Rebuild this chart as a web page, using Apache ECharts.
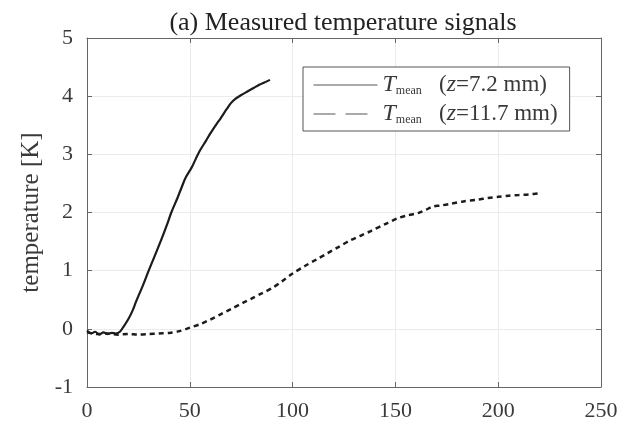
<!DOCTYPE html>
<html><head><meta charset="utf-8">
<script src="https://cdn.jsdelivr.net/npm/echarts@6/dist/echarts.min.js"></script>
<style>html,body{margin:0;padding:0;background:#fff}#c{width:631px;height:428px}</style>
</head><body><div id="c"></div>
<script>
var titleText = '(a) Measured temperature signals';
var yName = 'temperature [K]';
var xTicks = [0, 50, 100, 150, 200, 250];
var yTicks = [-1, 0, 1, 2, 3, 4, 5];
var seriesNames = ['T_mean (z=7.2 mm)', 'T_mean (z=11.7 mm)'];
var t1 = [0,2,4,6,8,10,12,14,16,18,20,22,24,27,30,33,36,39,41,44,46,48,51,53,55,58,60,63,65,68,70,72,75,78,81,84,86,89];
var v1 = [-0.03,-0.08,-0.05,-0.1,-0.06,-0.09,-0.07,-0.08,-0.05,0.05,0.16,0.3,0.48,0.73,1.0,1.26,1.52,1.8,2.0,2.25,2.43,2.6,2.78,2.93,3.07,3.24,3.36,3.52,3.62,3.78,3.88,3.95,4.02,4.08,4.14,4.2,4.23,4.28];
var t2 = [0,5,10,15,20,25,30,35,40,45,50,55,60,65,70,76,80,85,90,95,100,106,112,117,122,128,133,138,145,151,156,161,165,168,172,177,183,190,195,200,205,210,215,220];
var v2 = [-0.06,-0.09,-0.08,-0.1,-0.09,-0.1,-0.09,-0.08,-0.07,-0.04,0.02,0.08,0.16,0.25,0.34,0.45,0.52,0.61,0.7,0.82,0.95,1.08,1.2,1.3,1.4,1.52,1.6,1.68,1.8,1.9,1.95,1.99,2.05,2.1,2.12,2.15,2.19,2.22,2.25,2.27,2.29,2.3,2.31,2.33];

function zip(a, b) { return a.map(function (x, i) { return [x, b[i]]; }); }
var serif = 'Liberation Serif';
var axCol = '#666';
var txtCol = '#3a3a3a';
var chart = echarts.init(document.getElementById('c'));
function legendFmt(name) {
  var z = name.indexOf('7.2') >= 0 ? '=7.2 mm)' : '=11.7 mm)';
  return '{i|T}{s|mean}{r|   (}{i|z}{r|' + z + '}';
}
function axisCommon() {
  return {
    axisLine: { show: true, onZero: false, lineStyle: { color: axCol } },
    axisTick: { show: true, inside: true, length: 5, lineStyle: { color: axCol } }
  };
}
chart.setOption({
  animation: false,
  backgroundColor: '#fff',
  title: {
    text: titleText, left: 338, top: 5, textAlign: 'center',
    textStyle: { fontFamily: serif, fontSize: 26, fontWeight: 'normal', color: '#222' }
  },
  grid: { left: 87, right: 30, top: 38, bottom: 41 },
  legend: {
    orient: 'vertical', left: 303, top: 67,
    padding: [6, 12, 5, 10], itemGap: 5, itemWidth: 64, itemHeight: 20,
    borderColor: '#555', borderWidth: 1, backgroundColor: '#fff',
    itemStyle: { opacity: 0 },
    data: [
      { name: seriesNames[0], lineStyle: { width: 1, color: '#555', type: 'solid' } },
      { name: seriesNames[1], lineStyle: { width: 1, color: '#555', type: [22, 10] } }
    ],
    formatter: legendFmt,
    textStyle: {
      fontFamily: serif, fontSize: 23, color: txtCol,
      rich: {
        i: { fontFamily: serif, fontStyle: 'italic', fontSize: 24, color: txtCol },
        s: { fontFamily: serif, fontSize: 12, color: txtCol, verticalAlign: 'bottom', lineHeight: 16 },
        r: { fontFamily: serif, fontSize: 23, color: txtCol }
      }
    }
  },
  xAxis: [Object.assign(axisCommon(), {
    type: 'value', min: 0, max: 250, interval: 50,
    axisLabel: { margin: 13, fontFamily: serif, fontSize: 22, color: txtCol,
      formatter: function (v) { return xTicks.indexOf(v) >= 0 ? String(v) : ''; } },
    splitLine: { show: true, lineStyle: { color: '#ebebeb' } }
  }), Object.assign(axisCommon(), {
    type: 'value', position: 'top', min: 0, max: 250, interval: 50,
    axisLabel: { show: false }, splitLine: { show: false }
  })],
  yAxis: [Object.assign(axisCommon(), {
    type: 'value', min: -1, max: 5, interval: 1,
    name: yName, nameLocation: 'middle', nameGap: 38,
    nameTextStyle: { fontFamily: serif, fontSize: 25, color: txtCol },
    axisLabel: { margin: 14, fontFamily: serif, fontSize: 22, color: txtCol,
      formatter: function (v) { return yTicks.indexOf(v) >= 0 ? String(v) : ''; } },
    splitLine: { show: true, lineStyle: { color: '#ebebeb' } }
  }), Object.assign(axisCommon(), {
    type: 'value', position: 'right', min: -1, max: 5, interval: 1,
    axisLabel: { show: false }, splitLine: { show: false }
  })],
  series: [{
    name: seriesNames[0], type: 'line', showSymbol: false, symbol: 'none',
    data: zip(t1, v1), smooth: 0.3,
    lineStyle: { color: '#1c1c1c', width: 2.2, type: 'solid' },
    itemStyle: { color: '#1c1c1c' }
  }, {
    name: seriesNames[1], type: 'line', showSymbol: false, symbol: 'none',
    data: zip(t2, v2), smooth: 0.3,
    lineStyle: { color: '#1c1c1c', width: 2.5, type: [5, 4] },
    itemStyle: { color: '#1c1c1c' }
  }]
});
</script></body></html>
